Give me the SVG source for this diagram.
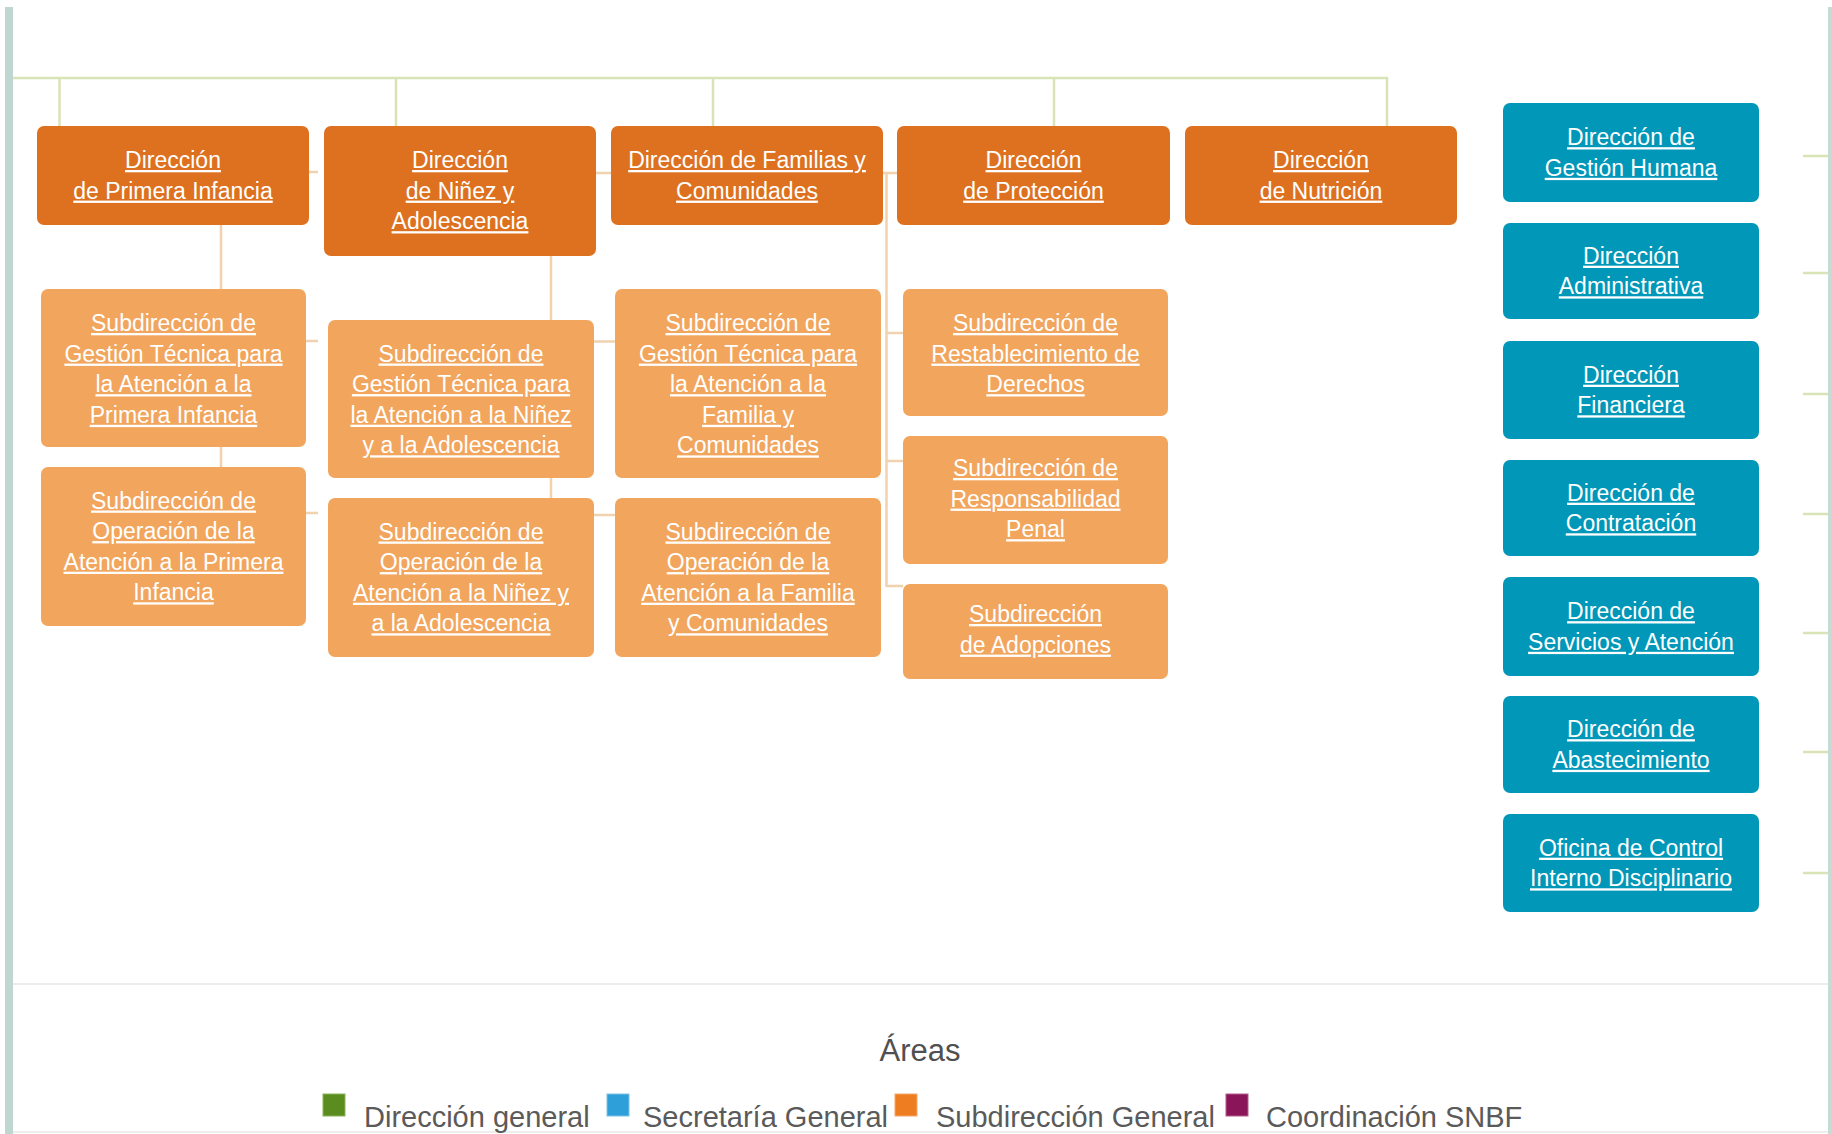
<svg xmlns="http://www.w3.org/2000/svg" width="1832" height="1134" viewBox="0 0 1832 1134">
  <style>
    .dir { fill: #DD711F; }
    .sub { fill: #F2A55D; }
    .sec { fill: #0097B9; }
    .lbl { font-family: "Liberation Sans", Arial, sans-serif; font-size: 23px; fill: #ffffff; text-anchor: middle; text-decoration: underline; }
    .green { stroke: #D9E4B6; stroke-width: 2.5; fill: none; }
    .tan { stroke: #F1D2AE; stroke-width: 2.5; fill: none; }
    .legend { font-family: "Liberation Sans", Arial, sans-serif; font-size: 29px; fill: #5a5a5a; }
    .title { font-family: "Liberation Sans", Arial, sans-serif; font-size: 31px; fill: #505050; text-anchor: middle; }
  </style>

  <rect x="0" y="0" width="1832" height="1134" fill="#ffffff"/>

  <!-- page frame -->
  <rect x="5" y="7" width="8" height="1127" fill="#BFD7D0"/>
  <rect x="1828" y="7" width="4" height="1127" fill="#C5DBD4"/>
  <line x1="13" y1="984" x2="1828" y2="984" stroke="#ECECEC" stroke-width="2"/>
  <line x1="13" y1="1132" x2="1828" y2="1132" stroke="#EEEEEE" stroke-width="2"/>

  <!-- connectors -->
  <g id="connectors">
    <path class="green" d="M13 78 H1387 V126 M59.5 78 V126 M396 78 V126 M713 78 V126 M1054 78 V126"/>
    <path class="green" d="M1803 156 H1828 M1803 273 H1828 M1803 394 H1828 M1803 514 H1828 M1803 633 H1828 M1803 752 H1828 M1803 873 H1828"/>
    <path class="tan" d="M221 225 V467 M309 172 H318 M306 341 H318 M306 513 H318"/>
    <path class="tan" d="M551 256 V498 M594 341.5 H615 M594 515 H615"/>
    <path class="tan" d="M596 173 H611 M883 173 H897 M886.5 172 V587 M886.5 333 H903 M886.5 461 H903 M886.5 586 H903"/>
  </g>

  <!-- directorates -->
  <g id="dir-primera-infancia">
    <rect class="dir" x="37" y="126" width="272" height="99" rx="7"/>
    <text class="lbl" y="168"><tspan x="173">Dirección</tspan><tspan x="173" dy="30.6">de Primera Infancia</tspan></text>
  </g>
  <g id="dir-ninez">
    <rect class="dir" x="324" y="126" width="272" height="130" rx="7"/>
    <text class="lbl" y="168"><tspan x="460">Dirección</tspan><tspan x="460" dy="30.6">de Niñez y</tspan><tspan x="460" dy="30.6">Adolescencia</tspan></text>
  </g>
  <g id="dir-familias">
    <rect class="dir" x="611" y="126" width="272" height="99" rx="7"/>
    <text class="lbl" y="168"><tspan x="747">Dirección de Familias y</tspan><tspan x="747" dy="30.6">Comunidades</tspan></text>
  </g>
  <g id="dir-proteccion">
    <rect class="dir" x="897" y="126" width="273" height="99" rx="7"/>
    <text class="lbl" y="168"><tspan x="1033.5">Dirección</tspan><tspan x="1033.5" dy="30.6">de Protección</tspan></text>
  </g>
  <g id="dir-nutricion">
    <rect class="dir" x="1185" y="126" width="272" height="99" rx="7"/>
    <text class="lbl" y="168"><tspan x="1321">Dirección</tspan><tspan x="1321" dy="30.6">de Nutrición</tspan></text>
  </g>

  <!-- sub-directorates -->
  <g id="sub-gt-primera-infancia">
    <rect class="sub" x="41" y="289" width="265" height="158" rx="7"/>
    <text class="lbl" y="331"><tspan x="173.5">Subdirección de</tspan><tspan x="173.5" dy="30.6">Gestión Técnica para</tspan><tspan x="173.5" dy="30.6">la Atención a la</tspan><tspan x="173.5" dy="30.6">Primera Infancia</tspan></text>
  </g>
  <g id="sub-op-primera-infancia">
    <rect class="sub" x="41" y="467" width="265" height="159" rx="7"/>
    <text class="lbl" y="508.5"><tspan x="173.5">Subdirección de</tspan><tspan x="173.5" dy="30.6">Operación de la</tspan><tspan x="173.5" dy="30.6">Atención a la Primera</tspan><tspan x="173.5" dy="30.6">Infancia</tspan></text>
  </g>
  <g id="sub-gt-ninez">
    <rect class="sub" x="328" y="320" width="266" height="158" rx="7"/>
    <text class="lbl" y="361.5"><tspan x="461">Subdirección de</tspan><tspan x="461" dy="30.6">Gestión Técnica para</tspan><tspan x="461" dy="30.6">la Atención a la Niñez</tspan><tspan x="461" dy="30.6">y a la Adolescencia</tspan></text>
  </g>
  <g id="sub-op-ninez">
    <rect class="sub" x="328" y="498" width="266" height="159" rx="7"/>
    <text class="lbl" y="539.5"><tspan x="461">Subdirección de</tspan><tspan x="461" dy="30.6">Operación de la</tspan><tspan x="461" dy="30.6">Atención a la Niñez y</tspan><tspan x="461" dy="30.6">a la Adolescencia</tspan></text>
  </g>
  <g id="sub-gt-familia">
    <rect class="sub" x="615" y="289" width="266" height="189" rx="7"/>
    <text class="lbl" y="331"><tspan x="748">Subdirección de</tspan><tspan x="748" dy="30.6">Gestión Técnica para</tspan><tspan x="748" dy="30.6">la Atención a la</tspan><tspan x="748" dy="30.6">Familia y</tspan><tspan x="748" dy="30.6">Comunidades</tspan></text>
  </g>
  <g id="sub-op-familia">
    <rect class="sub" x="615" y="498" width="266" height="159" rx="7"/>
    <text class="lbl" y="539.5"><tspan x="748">Subdirección de</tspan><tspan x="748" dy="30.6">Operación de la</tspan><tspan x="748" dy="30.6">Atención a la Familia</tspan><tspan x="748" dy="30.6">y Comunidades</tspan></text>
  </g>
  <g id="sub-restablecimiento">
    <rect class="sub" x="903" y="289" width="265" height="127" rx="7"/>
    <text class="lbl" y="331"><tspan x="1035.5">Subdirección de</tspan><tspan x="1035.5" dy="30.6">Restablecimiento de</tspan><tspan x="1035.5" dy="30.6">Derechos</tspan></text>
  </g>
  <g id="sub-responsabilidad">
    <rect class="sub" x="903" y="436" width="265" height="128" rx="7"/>
    <text class="lbl" y="476"><tspan x="1035.5">Subdirección de</tspan><tspan x="1035.5" dy="30.6">Responsabilidad</tspan><tspan x="1035.5" dy="30.6">Penal</tspan></text>
  </g>
  <g id="sub-adopciones">
    <rect class="sub" x="903" y="584" width="265" height="95" rx="7"/>
    <text class="lbl" y="622"><tspan x="1035.5">Subdirección</tspan><tspan x="1035.5" dy="30.6">de Adopciones</tspan></text>
  </g>

  <!-- general secretariat units -->
  <g id="sec-gestion-humana">
    <rect class="sec" x="1503" y="103" width="256" height="99" rx="7"/>
    <text class="lbl" y="145.2"><tspan x="1631">Dirección de</tspan><tspan x="1631" dy="30.6">Gestión Humana</tspan></text>
  </g>
  <g id="sec-administrativa">
    <rect class="sec" x="1503" y="223" width="256" height="96" rx="7"/>
    <text class="lbl" y="263.7"><tspan x="1631">Dirección</tspan><tspan x="1631" dy="30.6">Administrativa</tspan></text>
  </g>
  <g id="sec-financiera">
    <rect class="sec" x="1503" y="341" width="256" height="98" rx="7"/>
    <text class="lbl" y="382.7"><tspan x="1631">Dirección</tspan><tspan x="1631" dy="30.6">Financiera</tspan></text>
  </g>
  <g id="sec-contratacion">
    <rect class="sec" x="1503" y="460" width="256" height="96" rx="7"/>
    <text class="lbl" y="500.7"><tspan x="1631">Dirección de</tspan><tspan x="1631" dy="30.6">Contratación</tspan></text>
  </g>
  <g id="sec-servicios">
    <rect class="sec" x="1503" y="577" width="256" height="99" rx="7"/>
    <text class="lbl" y="619.2"><tspan x="1631">Dirección de</tspan><tspan x="1631" dy="30.6">Servicios y Atención</tspan></text>
  </g>
  <g id="sec-abastecimiento">
    <rect class="sec" x="1503" y="696" width="256" height="97" rx="7"/>
    <text class="lbl" y="737.2"><tspan x="1631">Dirección de</tspan><tspan x="1631" dy="30.6">Abastecimiento</tspan></text>
  </g>
  <g id="sec-control-interno">
    <rect class="sec" x="1503" y="814" width="256" height="98" rx="7"/>
    <text class="lbl" y="855.7"><tspan x="1631">Oficina de Control</tspan><tspan x="1631" dy="30.6">Interno Disciplinario</tspan></text>
  </g>

  <!-- legend -->
  <g id="legend">
    <text class="title" x="920" y="1061">Áreas</text>
    <rect x="323" y="1094" width="22" height="22" fill="#5B8C1F" stroke="#8DB35A" stroke-width="1"/>
    <text class="legend" x="364" y="1127">Dirección general</text>
    <rect x="607" y="1094" width="22" height="22" fill="#2E9FD9" stroke="#7CC3E8" stroke-width="1"/>
    <text class="legend" x="643" y="1127">Secretaría General</text>
    <rect x="895" y="1094" width="22" height="22" fill="#EE7D22" stroke="#F4A868" stroke-width="1"/>
    <text class="legend" x="936" y="1127">Subdirección General</text>
    <rect x="1226" y="1094" width="22" height="22" fill="#8A1558" stroke="#B45C8E" stroke-width="1"/>
    <text class="legend" x="1266" y="1127">Coordinación SNBF</text>
  </g>
</svg>
